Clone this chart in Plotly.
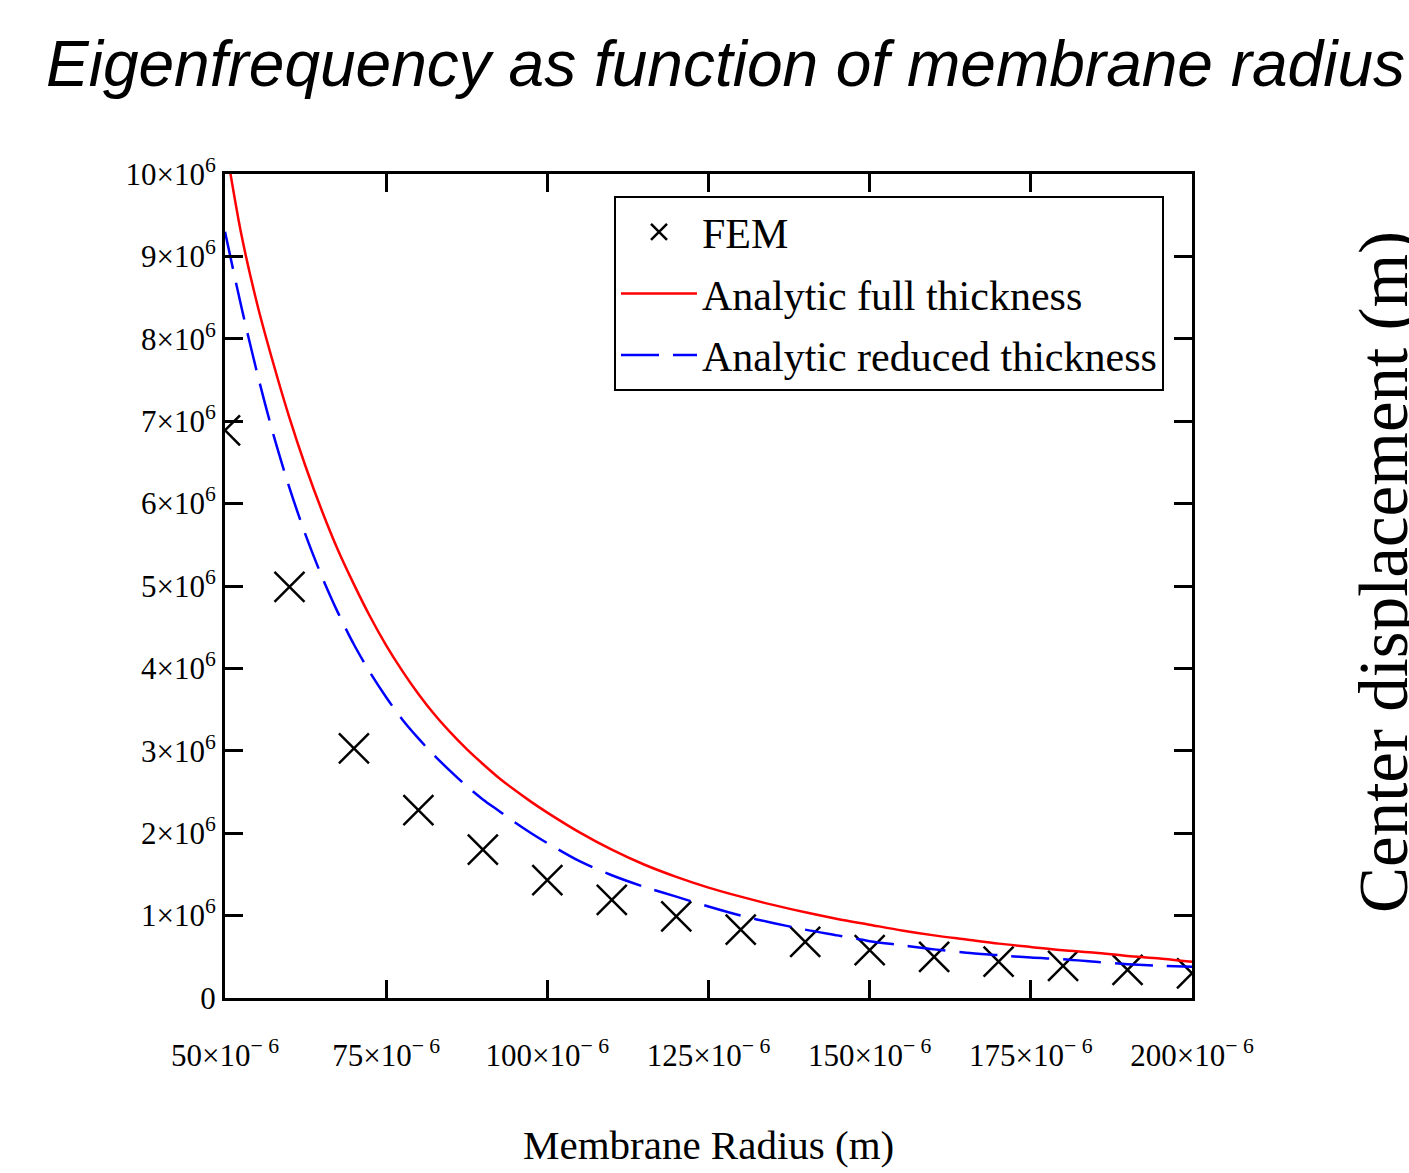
import plotly.graph_objects as go

# ---- data ----
radius_um_line = [50, 52.5, 55, 57.5, 60, 62.5, 65, 67.5, 70, 72.5, 75, 77.5, 80, 82.5, 85,
                  87.5, 90, 92.5, 95, 97.5, 100, 105, 110, 115, 120, 125, 130, 135, 140,
                  145, 150, 155, 160, 165, 170, 175, 180, 185, 190, 195, 200]
full_thickness_MHz = [10.40, 9.28, 8.42, 7.70, 7.04, 6.45, 5.92, 5.44, 5.02, 4.63, 4.28, 3.97,
                      3.69, 3.44, 3.22, 3.02, 2.84, 2.67, 2.52, 2.38, 2.25, 2.01, 1.80, 1.62,
                      1.47, 1.34, 1.23, 1.13, 1.04, 0.96, 0.89, 0.82, 0.76, 0.71, 0.66, 0.62,
                      0.58, 0.55, 0.51, 0.48, 0.44]
reduced_thickness_MHz = [9.30, 8.40, 7.58, 6.84, 6.19, 5.62, 5.12, 4.68, 4.29, 3.95, 3.65, 3.38,
                         3.15, 2.94, 2.75, 2.57, 2.41, 2.27, 2.13, 2.00, 1.88, 1.66, 1.49, 1.35,
                         1.23, 1.11, 1.00, 0.91, 0.83, 0.76, 0.69, 0.64, 0.59, 0.55, 0.52, 0.49,
                         0.47, 0.44, 0.41, 0.39, 0.38]
radius_um_fem = [50, 60, 70, 80, 90, 100, 110, 120, 130, 140, 150, 160, 170, 180, 190, 200]
fem_MHz = [6.89, 4.99, 3.03, 2.28, 1.80, 1.43, 1.19, 0.99, 0.83, 0.68, 0.58, 0.50, 0.44,
           0.39, 0.34, 0.30]

x_tick_vals_um = [50, 75, 100, 125, 150, 175, 200]
x_tick_text = ["50×10<sup>− 6</sup>", "75×10<sup>− 6</sup>", "100×10<sup>− 6</sup>",
               "125×10<sup>− 6</sup>", "150×10<sup>− 6</sup>", "175×10<sup>− 6</sup>",
               "200×10<sup>− 6</sup>"]
y_tick_vals_M = [0, 1, 2, 3, 4, 5, 6, 7, 8, 9, 10]
y_tick_text = ["0"] + [f"{v}×10<sup>6</sup>" for v in y_tick_vals_M[1:]]

# convert units
r_line = [v * 1e-6 for v in radius_um_line]
r_fem = [v * 1e-6 for v in radius_um_fem]
full = [v * 1e6 for v in full_thickness_MHz]
reduced = [v * 1e6 for v in reduced_thickness_MHz]
fem = [v * 1e6 for v in fem_MHz]

SERIF = "Liberation Serif, Times New Roman, serif"

fig = go.Figure()
fig.add_trace(go.Scatter(
    x=r_fem, y=fem, mode="markers", name="FEM", legendgroup="a",
    marker=dict(symbol="x-thin", size=30, color="black",
                line=dict(width=2.5, color="black")),
))
fig.add_trace(go.Scatter(
    x=r_line, y=full, mode="lines", name="Analytic full thickness", legendgroup="b",
    line=dict(color="#ff0000", width=2.5, shape="spline", smoothing=0.8),
))
fig.add_trace(go.Scatter(
    x=r_line, y=reduced, mode="lines", name="Analytic reduced thickness", legendgroup="c",
    line=dict(color="#0000ff", width=2.5, dash="38px,14px", shape="spline", smoothing=0.8),
))

axis_common = dict(
    showline=True, linecolor="black", linewidth=3, mirror="ticks",
    ticks="inside", ticklen=18, tickwidth=2.5, tickcolor="black",
    showgrid=False, zeroline=False,
    tickfont=dict(family=SERIF, size=31, color="black"),
)

fig.update_xaxes(
    range=[50e-6, 200e-6], tickvals=[v * 1e-6 for v in x_tick_vals_um],
    ticktext=x_tick_text, ticklabelstandoff=28, **axis_common,
)
fig.update_yaxes(
    range=[0, 10e6], tickvals=[v * 1e6 for v in y_tick_vals_M],
    ticktext=y_tick_text, ticklabelstandoff=0, **axis_common,
)

fig.update_layout(
    width=1409, height=1173,
    margin=dict(l=225, r=217, t=174, b=175),
    paper_bgcolor="white", plot_bgcolor="white",
    title=dict(
        text="Eigenfrequency as function of membrane radius",
        font=dict(family="Liberation Sans, Arial, sans-serif", size=64, color="black",
                  style="italic"),
        xref="container", x=46 / 1409, xanchor="left",
        yref="container", y=1 - 64 / 1173, yanchor="middle",
    ),
    legend=dict(
        x=(614 - 225) / 967, y=(998 - 196) / 824, xanchor="left", yanchor="top",
        bgcolor="white", bordercolor="black", borderwidth=2,
        font=dict(family=SERIF, size=42, color="black"),
        itemwidth=76, tracegroupgap=4,
    ),
    annotations=[
        dict(text="Membrane Radius (m)", xref="paper", yref="paper",
             x=0.5, y=(998 - 1145) / 824, xanchor="center", yanchor="middle",
             showarrow=False, font=dict(family=SERIF, size=41, color="black")),
        dict(text="Center displacement (m)", xref="paper", yref="paper",
             x=(1384 - 225) / 967, y=(998 - 572) / 824, xanchor="center",
             yanchor="middle", textangle=-90, showarrow=False,
             font=dict(family=SERIF, size=69, color="black")),
    ],
)

fig.write_html("out.html")
